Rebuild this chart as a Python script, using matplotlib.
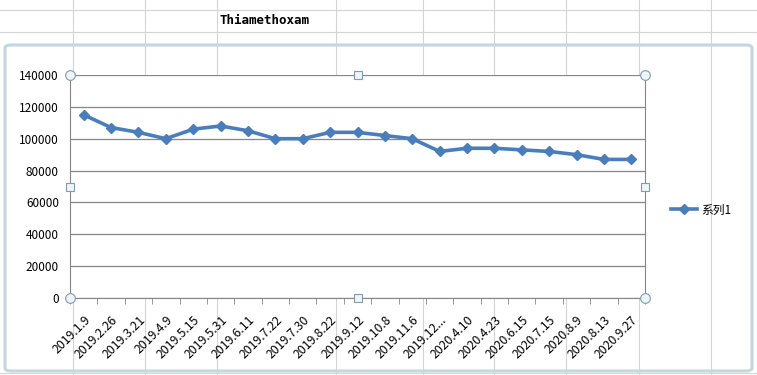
import matplotlib
matplotlib.use("Agg")
import matplotlib.pyplot as plt
from matplotlib.lines import Line2D
from matplotlib.patches import FancyBboxPatch

plt.rcParams['font.family'] = ['Noto Sans CJK SC', 'DejaVu Sans']

title = "Thiamethoxam"
series_name = "系列1"
dates = ["2019.1.9", "2019.2.26", "2019.3.21", "2019.4.9", "2019.5.15", "2019.5.31",
         "2019.6.11", "2019.7.22", "2019.7.30", "2019.8.22", "2019.9.12", "2019.10.8",
         "2019.11.6", "2019.12...", "2020.4.10", "2020.4.23", "2020.6.15", "2020.7.15",
         "2020.8.9", "2020.8.13", "2020.9.27"]
values = [115000, 107000, 104000, 100000, 106000, 108000, 105000, 100000, 100000,
          104000, 104000, 102000, 100000, 92000, 94000, 94000, 93000, 92000,
          90000, 87000, 87000]
yticks = [0, 20000, 40000, 60000, 80000, 100000, 120000, 140000]

W, H = 757, 375
fig = plt.figure(figsize=(W / 100, H / 100), dpi=100)

# spreadsheet grid in the background
grid_col = "#d4d4d4"
for x in [73, 145, 217, 336, 423, 494, 566, 639, 711]:
    fig.add_artist(Line2D([x / W, x / W], [0, 1], color=grid_col, lw=0.8))
for y in [10, 32, 373]:
    fig.add_artist(Line2D([0, 1], [1 - y / H, 1 - y / H], color=grid_col, lw=0.8))
fig.text(220 / W, 1 - 21 / H, title, family="DejaVu Sans Mono", fontweight="bold",
         fontsize=9, ha="left", va="center")

# chart area frame
frame = FancyBboxPatch((5 / W, 1 - 371 / H), 747 / W, 326 / H,
                       boxstyle="round,pad=0,rounding_size=0.008",
                       transform=fig.transFigure, facecolor="white",
                       edgecolor="#c3d7de", lw=2.2, zorder=1)
fig.patches.append(frame)

ax = fig.add_axes([70 / W, 1 - 298 / H, 575 / W, 223 / H], zorder=2)
ax.set_facecolor("white")
x = range(len(dates))
ax.plot(x, values, color="#4a7ebb", lw=2.6, marker="D", markersize=5.5,
        label=series_name, zorder=3)
ax.set_xlim(-0.5, len(dates) - 0.5)
ax.set_ylim(0, 140000)
ax.set_yticks(yticks)
ax.set_yticklabels([str(v) for v in yticks], fontsize=8.5)
ax.yaxis.grid(True, color="#868686", lw=0.9)
ax.set_axisbelow(True)
ax.tick_params(axis="y", length=0, pad=8)

ax.set_xticks(x)
ax.set_xticklabels(dates, rotation=45, ha="right", rotation_mode="anchor", fontsize=8.8)
ax.tick_params(axis="x", length=0, pad=11)
ax.set_xticks([i + 0.5 for i in range(-1, len(dates))], minor=True)
ax.tick_params(axis="x", which="minor", length=4, color="#868686", direction="out")

for side in ["left", "right", "bottom"]:
    ax.spines[side].set_color("#868686")
ax.spines["top"].set_visible(False)

# plot-area selection handles
for px, py in [(0, 0), (1, 0), (0, 1), (1, 1)]:
    ax.plot(px, py, "o", transform=ax.transAxes, ms=7, mfc="#eef4f8",
            mec="#7f9bb0", mew=0.8, clip_on=False, zorder=5)
for px, py in [(0.5, 0), (0.5, 1), (0, 0.5), (1, 0.5)]:
    ax.plot(px, py, "s", transform=ax.transAxes, ms=5.5, mfc="#eef4f8",
            mec="#7f9bb0", mew=0.8, clip_on=False, zorder=5)

ax.legend(loc="center left", bbox_to_anchor=(660 / W, 1 - 210 / H),
          bbox_transform=fig.transFigure, frameon=False, fontsize=8.5,
          handlelength=2.2, handletextpad=0.4)

fig.savefig("out.png", dpi=100)
